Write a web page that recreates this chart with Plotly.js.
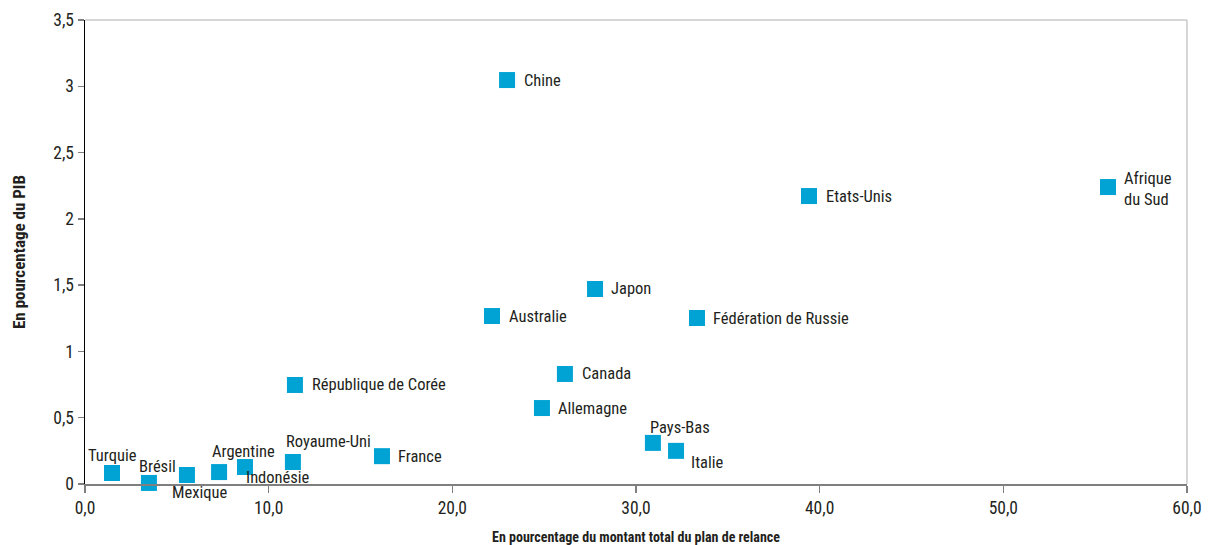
<!DOCTYPE html>
<html><head><meta charset="utf-8">
<script src="https://cdn.plot.ly/plotly-3.0.1.min.js"></script>
<style>html,body{margin:0;padding:0;background:#fff}#chart{width:1211px;height:545px}</style>
</head><body><div id="chart"></div>
<script>
const countries = ["Turquie","Brésil","Mexique","Argentine","Indonésie","Royaume-Uni","France","Allemagne","Pays-Bas","Italie","Canada","République de Corée","Australie","Japon","Fédération de Russie","Chine","Etats-Unis","Afrique<br>du Sud"];
const relance = [1.47,3.48,5.55,7.30,8.71,11.32,16.17,24.88,30.92,32.18,26.13,11.43,22.16,27.77,33.32,22.98,39.42,55.70];
const pib = [0.083,0.008,0.068,0.09,0.128,0.166,0.21,0.573,0.31,0.25,0.83,0.747,1.267,1.471,1.252,3.047,2.172,2.24];
// label placement: [xanchor, xshift, yshift]
const labelPos = [
 ["center",0,18],["center",9,16],["center",13,-18],["center",24,21],["center",33,-10],["center",36,20],
 ["left",14,0],["left",14,0],["center",27,15],["left",13,-12],["left",15,0],["left",15,0],["left",15,0],
 ["left",14,0],["left",14,0],["left",15,0],["left",15,0],["left",14,-2]
];
const font = "Roboto Condensed, Liberation Sans Narrow, sans-serif";
const txt = "#231f20";
const annotations = countries.map((c,i)=>({
  x: relance[i], y: pib[i], xref:"x", yref:"y", text:c, showarrow:false,
  xanchor: labelPos[i][0], yanchor:"middle", xshift: labelPos[i][1], yshift: labelPos[i][2],
  align:"left", font:{family:font,size:16.5,color:txt}
}));
const trace = {
  x: relance, y: pib, mode:"markers", type:"scatter", cliponaxis:false,
  marker:{symbol:"square", size:16, color:"#00a3d3", line:{width:0}},
  hoverinfo:"none"
};
const layout = {
  width:1211, height:545,
  margin:{l:85,r:24,t:20,b:61},
  paper_bgcolor:"#fff", plot_bgcolor:"#fff",
  separators:", ",
  showlegend:false,
  font:{family:font,size:18,color:txt},
  xaxis:{range:[0,60], dtick:10, tick0:0, tickformat:".1f", showgrid:false, zeroline:false,
    showline:true, linecolor:"#7f7f7f", linewidth:2, ticks:"outside", ticklen:7, tickcolor:"#7f7f7f", tickwidth:1.5,
    tickfont:{family:font,size:17.5,color:txt},
    title:{text:"<b>En pourcentage du montant total du plan de relance</b>", font:{family:font,size:14,color:txt}, standoff:41}},
  yaxis:{range:[0,3.5], dtick:0.5, tick0:0, showgrid:false, zeroline:false,
    showline:true, linecolor:"#000", linewidth:1.5, ticks:"outside", ticklen:6, tickcolor:"#7f7f7f", tickwidth:1.5,
    tickfont:{family:font,size:17.5,color:txt},
    title:{text:"<b>En pourcentage du PIB</b>", font:{family:font,size:17,color:txt}, standoff:23}},
  shapes:[
    {type:"line", xref:"paper", yref:"paper", x0:0, x1:1, y0:1, y1:1, line:{color:"#c8c8c8", width:1.5}},
    {type:"line", xref:"paper", yref:"paper", x0:1, x1:1, y0:0, y1:1, line:{color:"#c8c8c8", width:1.5}}
  ],
  annotations: annotations
};
Plotly.newPlot("chart",[trace],layout,{displayModeBar:false,staticPlot:true});
</script></body></html>
